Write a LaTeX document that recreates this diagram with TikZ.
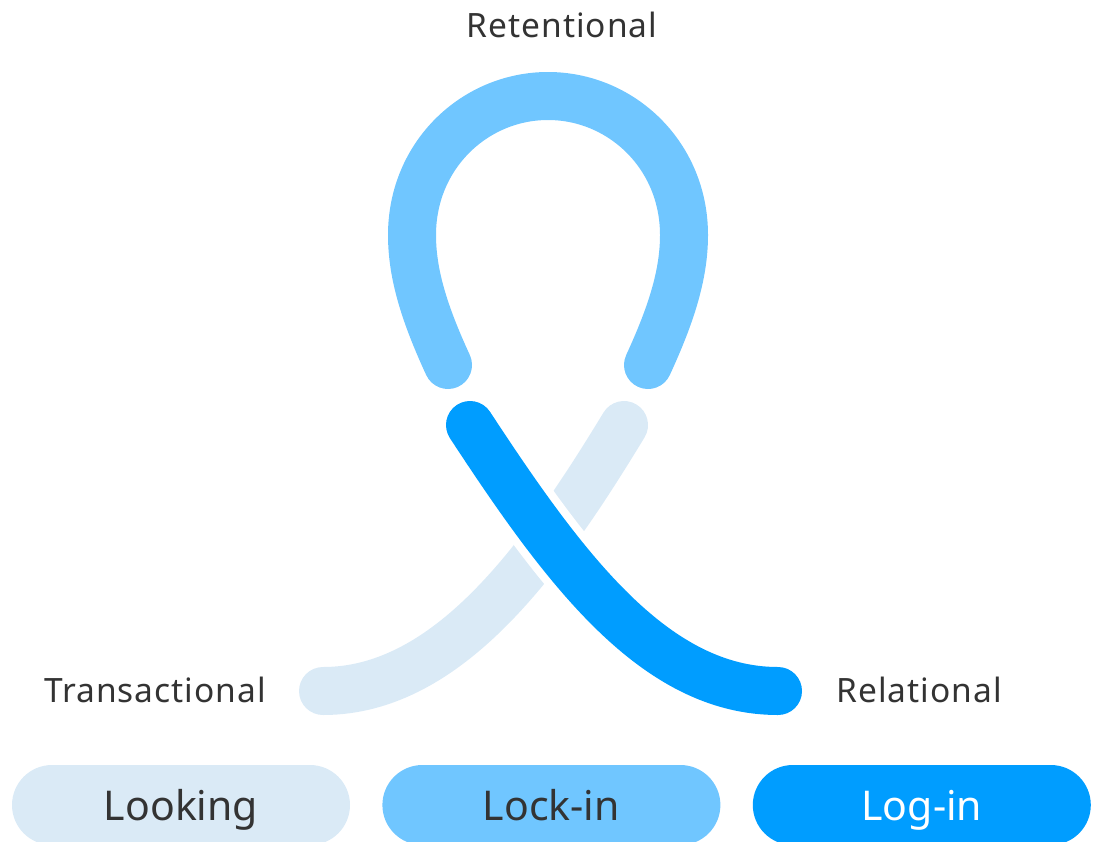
\documentclass[tikz,border=0pt]{standalone}
\usepackage{fontspec}
\setmainfont{Noto Sans}
\newfontfamily\labelfont[LetterSpace=3]{Noto Sans}
\usetikzlibrary{positioning}

\definecolor{loosebg}{HTML}{DAEAF6}
\definecolor{lockbg}{HTML}{70C6FF}
\definecolor{loginbg}{HTML}{009DFF}
\definecolor{labeltext}{HTML}{333333}

\begin{document}
\begin{tikzpicture}[
    x=1pt, y=-1pt,
    band/.style={line width=48pt, line cap=round},
    gap/.style={line width=64pt, line cap=round, white},
    lbl/.style={anchor=base, text=labeltext, font=\labelfont\fontsize{33.5}{40}\selectfont, inner sep=0pt},
    pill/.style={rounded corners=40pt, minimum width=338pt, minimum height=80pt,
                 inner sep=0pt, text height=37pt, text depth=7pt,
                 font=\fontsize{41}{48}\selectfont}
]
    \useasboundingbox (0,0) rectangle (1099,841);
    \clip (0,0) rectangle (1099,841);

    % ends of the three strokes
    \coordinate (tA) at (323,691);   % transactional, left end
    \coordinate (tB) at (624,425);   % transactional, upper end
    \coordinate (rA) at (448,365);   % loop, left end
    \coordinate (rB) at (648,365);   % loop, right end
    \coordinate (lA) at (470,425);   % relational, upper end
    \coordinate (lB) at (778,691);   % relational, right end

    % --- light stroke (behind) ---
    \draw[band, loosebg] (tA) .. controls (450,691) and (545,555) .. (tB);

    % --- loop at the top ---
    \draw[band, lockbg] (rA) .. controls (425,315) and (412,275) .. (412,235)
        .. controls (412,155) and (475,96) .. (548,96)
        .. controls (621,96) and (684,155) .. (684,235)
        .. controls (684,275) and (671,315) .. (rB);

    % --- dark stroke, cut out of the light one ---
    \draw[gap] (lA) .. controls (565,570) and (655,691) .. (lB);
    \draw[band, loginbg] (lA) .. controls (565,570) and (655,691) .. (lB);

    % labels
    \node[lbl] (ret) at (562,37) {Retentional};
    \node[lbl] (tra) at (155,702) {Transactional};
    \node[lbl] (rel) at (919,702) {Relational};

    % --- the three stages ---
    \node[pill, fill=loosebg, text=labeltext] (looking) at (181,805) {Looking};
    \node[pill, fill=lockbg, text=labeltext, right=32pt of looking] (lockin) {Lock-in};
    \node[pill, fill=loginbg, text=white, right=32pt of lockin] (login) {Log-in};

\end{tikzpicture}
\end{document}
